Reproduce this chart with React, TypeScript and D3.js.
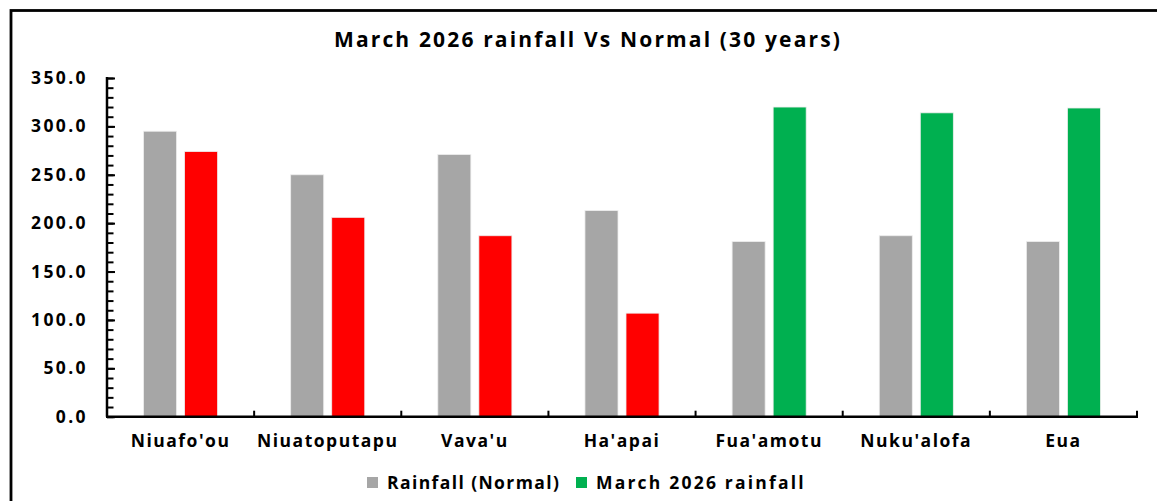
import { axisLeft, scaleBand, scaleLinear, select, range } from 'd3';
import React, { useEffect, useRef } from 'react';

const stations = ['Niuafo\'ou', 'Niuatoputapu', 'Vava\'u', 'Ha\'apai', 'Fua\'amotu', 'Nuku\'alofa', 'Eua'];
const normalRain = [295, 250, 271, 213, 181, 187, 181];
const marchRain = [274, 206, 187, 107, 320, 314, 319];
const seriesNames = ['Rainfall (Normal)', 'March 2026 rainfall'];
const yMajorTicks = [0, 50, 100, 150, 200, 250, 300, 350];

const GREY = '#a6a6a6';
const RED = '#ff0000';
const GREEN = '#00b050';
const FONT = '"Open Sans", sans-serif';

const W = 1157;
const H = 501;
const left = 107;
const right = 1137;
const bottom = 416.7;
const top = 78;

const App: React.FC = () => {
  const svgRef = useRef<SVGSVGElement>(null);

  useEffect(() => {
    const svg = select(svgRef.current);
    svg.selectAll('*').remove();

    // frame round the chart
    svg
      .append('rect')
      .attr('x', 11)
      .attr('y', 10.5)
      .attr('width', W + 20)
      .attr('height', H + 20)
      .attr('fill', '#fff')
      .attr('stroke', '#000')
      .attr('stroke-width', 2.8);

    // scales
    const x = scaleBand<string>().domain(stations).range([left, right]).padding(0);
    const inner = scaleBand<string>()
      .domain(['normal', 'march'])
      .range([0, x.bandwidth()])
      .paddingInner(0.195)
      .paddingOuter(0.89);
    const y = scaleLinear().domain([0, 350]).range([bottom, top]);

    // title
    svg
      .append('text')
      .attr('x', 588)
      .attr('y', 47)
      .attr('text-anchor', 'middle')
      .style('font-family', FONT)
      .style('font-weight', 700)
      .style('font-size', '21px')
      .style('letter-spacing', '2.15px')
      .attr('fill', '#000')
      .text('March 2026 rainfall Vs Normal (30 years)');

    // bars
    const rows = stations.map((s, i) => ({ s, normal: normalRain[i], march: marchRain[i] }));
    const g = svg.append('g');
    g.selectAll('.bar-normal')
      .data(rows)
      .join('rect')
      .attr('class', 'bar-normal')
      .attr('x', (d) => (x(d.s) as number) + (inner('normal') as number))
      .attr('width', inner.bandwidth())
      .attr('y', (d) => y(d.normal))
      .attr('height', (d) => y(0) - y(d.normal))
      .attr('fill', GREY)
      .attr('stroke', '#eeeeee')
      .attr('stroke-width', 0.8);
    g.selectAll('.bar-march')
      .data(rows)
      .join('rect')
      .attr('class', 'bar-march')
      .attr('x', (d) => (x(d.s) as number) + (inner('march') as number))
      .attr('width', inner.bandwidth())
      .attr('y', (d) => y(d.march))
      .attr('height', (d) => y(0) - y(d.march))
      .attr('fill', (d) => (d.march >= d.normal ? GREEN : RED))
      .attr('stroke', '#eeeeee')
      .attr('stroke-width', 0.8);

    // y axis: minor ticks every 10, labels every 50
    const yMinor = svg.append('g').attr('transform', `translate(${left},0)`);
    yMinor.call(
      axisLeft(y)
        .tickValues(range(0, 351, 10))
        .tickSize(-6.5)
        .tickFormat(() => ''),
    );
    yMinor.select('.domain').remove();
    yMinor.selectAll('line').attr('stroke', '#000').attr('stroke-width', 2);

    const yAxis = svg.append('g').attr('transform', `translate(${left},0)`);
    yAxis.call(
      axisLeft(y)
        .tickValues(yMajorTicks)
        .tickSize(-8)
        .tickPadding(19)
        .tickFormat((d) => (d as number).toFixed(1)),
    );
    yAxis.select('.domain').remove();
    yAxis.selectAll('line').attr('stroke', '#000').attr('stroke-width', 2);
    yAxis
      .selectAll('text')
      .style('font-family', FONT)
      .style('font-weight', 700)
      .style('font-size', '17.5px')
      .style('letter-spacing', '2.4px')
      .attr('fill', '#000');

    svg
      .append('line')
      .attr('x1', left)
      .attr('x2', left)
      .attr('y1', top - 1)
      .attr('y2', bottom)
      .attr('stroke', '#000')
      .attr('stroke-width', 2.5);

    // x axis line and category ticks pointing up
    svg
      .append('line')
      .attr('x1', left - 1)
      .attr('x2', right + 1)
      .attr('y1', bottom)
      .attr('y2', bottom)
      .attr('stroke', '#000')
      .attr('stroke-width', 2.5);
    const bounds = stations.map((s) => x(s) as number).concat([right]);
    svg
      .selectAll('.xtick')
      .data(bounds.slice(1))
      .join('line')
      .attr('class', 'xtick')
      .attr('x1', (d) => d)
      .attr('x2', (d) => d)
      .attr('y1', bottom)
      .attr('y2', bottom - 6)
      .attr('stroke', '#000')
      .attr('stroke-width', 2);

    svg
      .selectAll('.xlabel')
      .data(stations)
      .join('text')
      .attr('class', 'xlabel')
      .attr('x', (d) => (x(d) as number) + x.bandwidth() / 2)
      .attr('y', 447)
      .attr('text-anchor', 'middle')
      .style('font-family', FONT)
      .style('font-weight', 700)
      .style('font-size', '17.5px')
      .style('letter-spacing', '1.5px')
      .attr('fill', '#000')
      .text((d) => d);

    // legend
    const legendX = [367, 576];
    const legendCol = [GREY, GREEN];
    const lg = svg
      .selectAll('.legend')
      .data(seriesNames)
      .join('g')
      .attr('class', 'legend')
      .attr('transform', (_, i) => `translate(${legendX[i]},477)`);
    lg.append('rect')
      .attr('width', 11)
      .attr('height', 11)
      .attr('fill', (_, i) => legendCol[i]);
    lg.append('text')
      .attr('x', 20)
      .attr('y', 12)
      .style('font-family', FONT)
      .style('font-weight', 700)
      .style('font-size', '17.5px')
      .style('letter-spacing', (_, i) => (i === 0 ? '1.4px' : '2.2px'))
      .attr('fill', '#000')
      .text((d) => d);
  }, []);

  return (
    <svg
      ref={svgRef}
      width={W}
      height={H}
      style={{ position: 'absolute', left: 0, top: 0, background: '#fff' }}
    />
  );
};

export default App;
